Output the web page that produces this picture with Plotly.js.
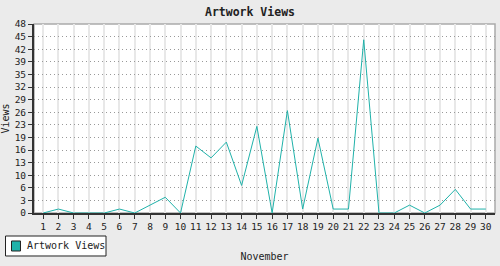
<!DOCTYPE html>
<html>
<head>
<meta charset="utf-8">
<script src="https://cdn.plot.ly/plotly-3.0.1.min.js"></script>
<style>html,body{margin:0;padding:0;background:#ebebeb;}#chart{width:500px;height:266px;}</style>
</head>
<body>
<div id="chart"></div>
<script>
const days = [1,2,3,4,5,6,7,8,9,10,11,12,13,14,15,16,17,18,19,20,21,22,23,24,25,26,27,28,29,30];
const views = [0,1,0,0,0,1,0,2,4,0,17,14,18,7,22,0,26,1,19,1,1,44,0,0,2,0,2,6,1,1];
const yTickVals = [0,3.2,6.4,9.6,12.8,16,19.2,22.4,25.6,28.8,32,35.2,38.4,41.6,44.8,48];
const yTickText = ['0','3','6','10','13','16','19','23','26','29','32','35','39','42','45','48'];
const seriesName = 'Artwork Views';
const lineColor = '#20b2aa';
const mono = '"DejaVu Sans Mono", "Liberation Mono", monospace';

const trace = {
  x: days, y: views, type: 'scatter', mode: 'lines', name: seriesName,
  line: {color: lineColor, width: 1}, showlegend: false
};

const layout = {
  width: 500, height: 266,
  paper_bgcolor: '#ebebeb', plot_bgcolor: '#ffffff',
  margin: {l: 34, r: 5, t: 24, b: 53},
  title: {text: '<b>Artwork Views</b>', font: {family: mono, size: 11.5, color: '#222'}, x: 0.5, xanchor: 'center', y: 0.955, yanchor: 'middle'},
  xaxis: {
    range: [0.4, 30.6], tickvals: days, ticktext: days.map(String),
    showgrid: true, gridcolor: '#e8e8e8', gridwidth: 2,
    showline: true, linecolor: '#333', linewidth: 2,
    ticks: 'outside', ticklen: 4, tickcolor: '#333', tickwidth: 1,
    tickfont: {family: mono, size: 9.5, color: '#222'},
    title: {text: 'November', font: {family: mono, size: 10, color: '#222'}, standoff: 22},
    zeroline: false, fixedrange: true
  },
  yaxis: {
    range: [0, 48], tickvals: yTickVals, ticktext: yTickText,
    showgrid: true, gridcolor: '#999', gridwidth: 1, griddash: '1px,3px',
    showline: true, linecolor: '#333', linewidth: 2,
    ticks: 'outside', ticklen: 4, tickcolor: '#333', tickwidth: 1,
    tickfont: {family: mono, size: 9.5, color: '#222'},
    title: {text: 'Views', font: {family: mono, size: 10, color: '#222'}, standoff: 6},
    zeroline: false, fixedrange: true
  },
  shapes: [
    {type: 'rect', xref: 'paper', yref: 'paper', x0: 0, x1: 1, y0: 0, y1: 1, line: {color: '#aaa', width: 1.5}, layer: 'below'},
    {type: 'rect', xref: 'paper', yref: 'paper', x0: -0.0618, x1: 0.1562, y0: -0.1217, y1: -0.2275, fillcolor: '#fff', line: {color: '#222', width: 1}},
    {type: 'rect', xref: 'paper', yref: 'paper', x0: -0.0488, x1: -0.0293, y0: -0.148, y1: -0.2011, fillcolor: lineColor, line: {color: '#222', width: 1}}
  ],
  annotations: [
    {xref: 'paper', yref: 'paper', x: -0.0206, y: -0.1746, xanchor: 'left', yanchor: 'middle', text: seriesName, showarrow: false, font: {family: mono, size: 10, color: '#222'}}
  ]
};

Plotly.newPlot('chart', [trace], layout, {displayModeBar: false, staticPlot: true});
</script>
</body>
</html>
